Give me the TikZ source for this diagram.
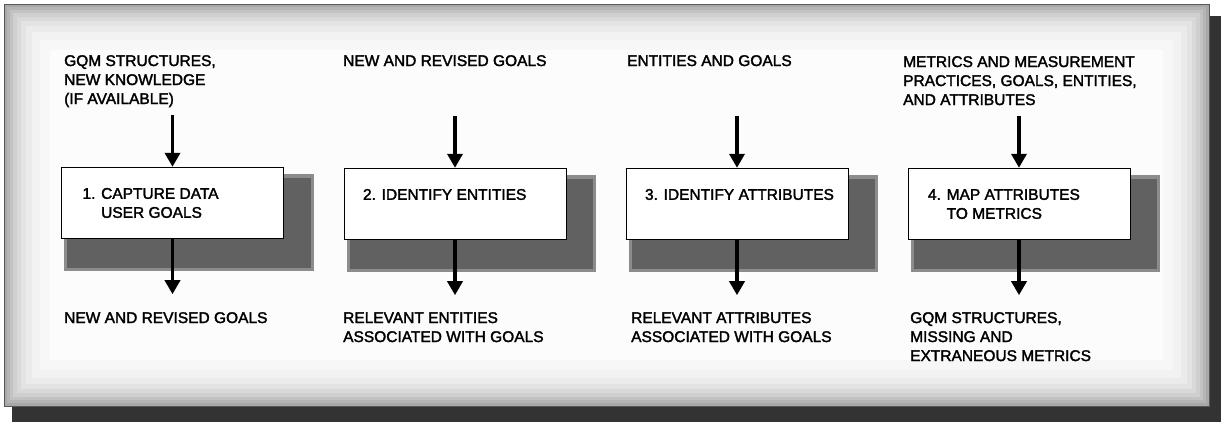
\documentclass[tikz,border=0pt]{standalone}
\usepackage{fontspec}
\setmainfont{Liberation Sans}
\newfontfamily\heavyfont{Liberation Sans}[FakeBold=2]
\usetikzlibrary{arrows.meta}
\usetikzlibrary{calc}
\usetikzlibrary{backgrounds}

\begin{document}
\begin{tikzpicture}[x=1pt, y=-1pt,
  every node/.style={font=\heavyfont\fontsize{15.5}{19}\selectfont},
  caption/.style={anchor=north west, inner sep=0pt, align=left},
  stage/.style={draw, thin, fill=white, minimum width=222pt, minimum height=71pt, inner sep=0pt},
  flow/.style={line width=3.5pt, -{Triangle[width=15pt, length=14pt]}},
  haze/.style={fill=black!45},
  boxshadow/.style={fill=black!62}]
  \useasboundingbox (0,0) rectangle (1221,422);

  % the four steps
  \node[stage] (s1) at (172.5,202.5) {};
  \node[stage] (s2) at (455,203.5) {};
  \node[stage] (s3) at (737,203.5) {};
  \node[stage] (s4) at (1019,203.5) {};

  \node[caption] (l1) at ($(s1.north west)+(21,21)$) {1. CAPTURE DATA\\\phantom{1. }USER GOALS};
  \node[caption] (l2) at ($(s2.north west)+(19,21)$) {2. IDENTIFY ENTITIES};
  \node[caption] (l3) at ($(s3.north west)+(19,21)$) {3. IDENTIFY ATTRIBUTES};
  \node[caption] (l4) at ($(s4.north west)+(20,21)$) {4. MAP ATTRIBUTES\\\phantom{4. }TO METRICS};

  % inputs
  \node[caption] (g1) at (64,55) {GQM STRUCTURES,\\NEW KNOWLEDGE\\(IF AVAILABLE)};
  \node[caption] (g2) at (343,55) {NEW AND REVISED GOALS};
  \node[caption] (g3) at (627,55) {ENTITIES AND GOALS};
  \node[caption] (g4) at (903,56) {METRICS AND MEASUREMENT\\PRACTICES, GOALS, ENTITIES,\\AND ATTRIBUTES};

  % outputs
  \node[caption] (r1) at (64,312) {NEW AND REVISED GOALS};
  \node[caption] (r2) at (343,312) {RELEVANT ENTITIES\\ASSOCIATED WITH GOALS};
  \node[caption] (r3) at (631,312) {RELEVANT ATTRIBUTES\\ASSOCIATED WITH GOALS};
  \node[caption] (r4) at (910,312) {GQM STRUCTURES,\\MISSING AND\\EXTRANEOUS METRICS};

  \coordinate (in1) at ($(s1.north)+(0,-52)$);
  \coordinate (in2) at ($(s2.north)+(0,-52)$);
  \coordinate (in3) at ($(s3.north)+(0,-52)$);
  \coordinate (in4) at ($(s4.north)+(0,-52)$);
  \coordinate (out1) at ($(s1.south)+(0,56)$);
  \coordinate (out2) at ($(s2.south)+(0,56)$);
  \coordinate (out3) at ($(s3.south)+(0,56)$);
  \coordinate (out4) at ($(s4.south)+(0,56)$);

  \draw[flow] (in1) -- (s1);
  \draw[flow] (in2) -- (s2);
  \draw[flow] (in3) -- (s3);
  \draw[flow] (in4) -- (s4);
  \draw[flow] (s1) -- (out1);
  \draw[flow] (s2) -- (out2);
  \draw[flow] (s3) -- (out3);
  \draw[flow] (s4) -- (out4);

  \begin{pgfonlayer}{background}
    % panel and its shadow
    \fill[black!80] (12,16) rectangle (1221,422);
    \draw[black!65, fill=black!34] (4,4) rectangle (1209,406);
    \foreach \d/\c in {7/29,10/24,13/19,17/15,21/11,26/8,32/5,40/3,50/1}
      \fill[black!\c] (\d,\d) rectangle (1213-\d,410-\d);
    % box shadows
    \fill[haze] ($(s1.north west)+(3,7)$) rectangle ($(s1.south east)+(30,33)$);
    \fill[boxshadow] ($(s1.north west)+(6,11)$) rectangle ($(s1.south east)+(27,30)$);
    \fill[haze] ($(s2.north west)+(3,7)$) rectangle ($(s2.south east)+(30,33)$);
    \fill[boxshadow] ($(s2.north west)+(6,11)$) rectangle ($(s2.south east)+(27,30)$);
    \fill[haze] ($(s3.north west)+(3,7)$) rectangle ($(s3.south east)+(30,33)$);
    \fill[boxshadow] ($(s3.north west)+(6,11)$) rectangle ($(s3.south east)+(27,30)$);
    \fill[haze] ($(s4.north west)+(3,7)$) rectangle ($(s4.south east)+(30,33)$);
    \fill[boxshadow] ($(s4.north west)+(6,11)$) rectangle ($(s4.south east)+(27,30)$);
  \end{pgfonlayer}
\end{tikzpicture}
\end{document}
